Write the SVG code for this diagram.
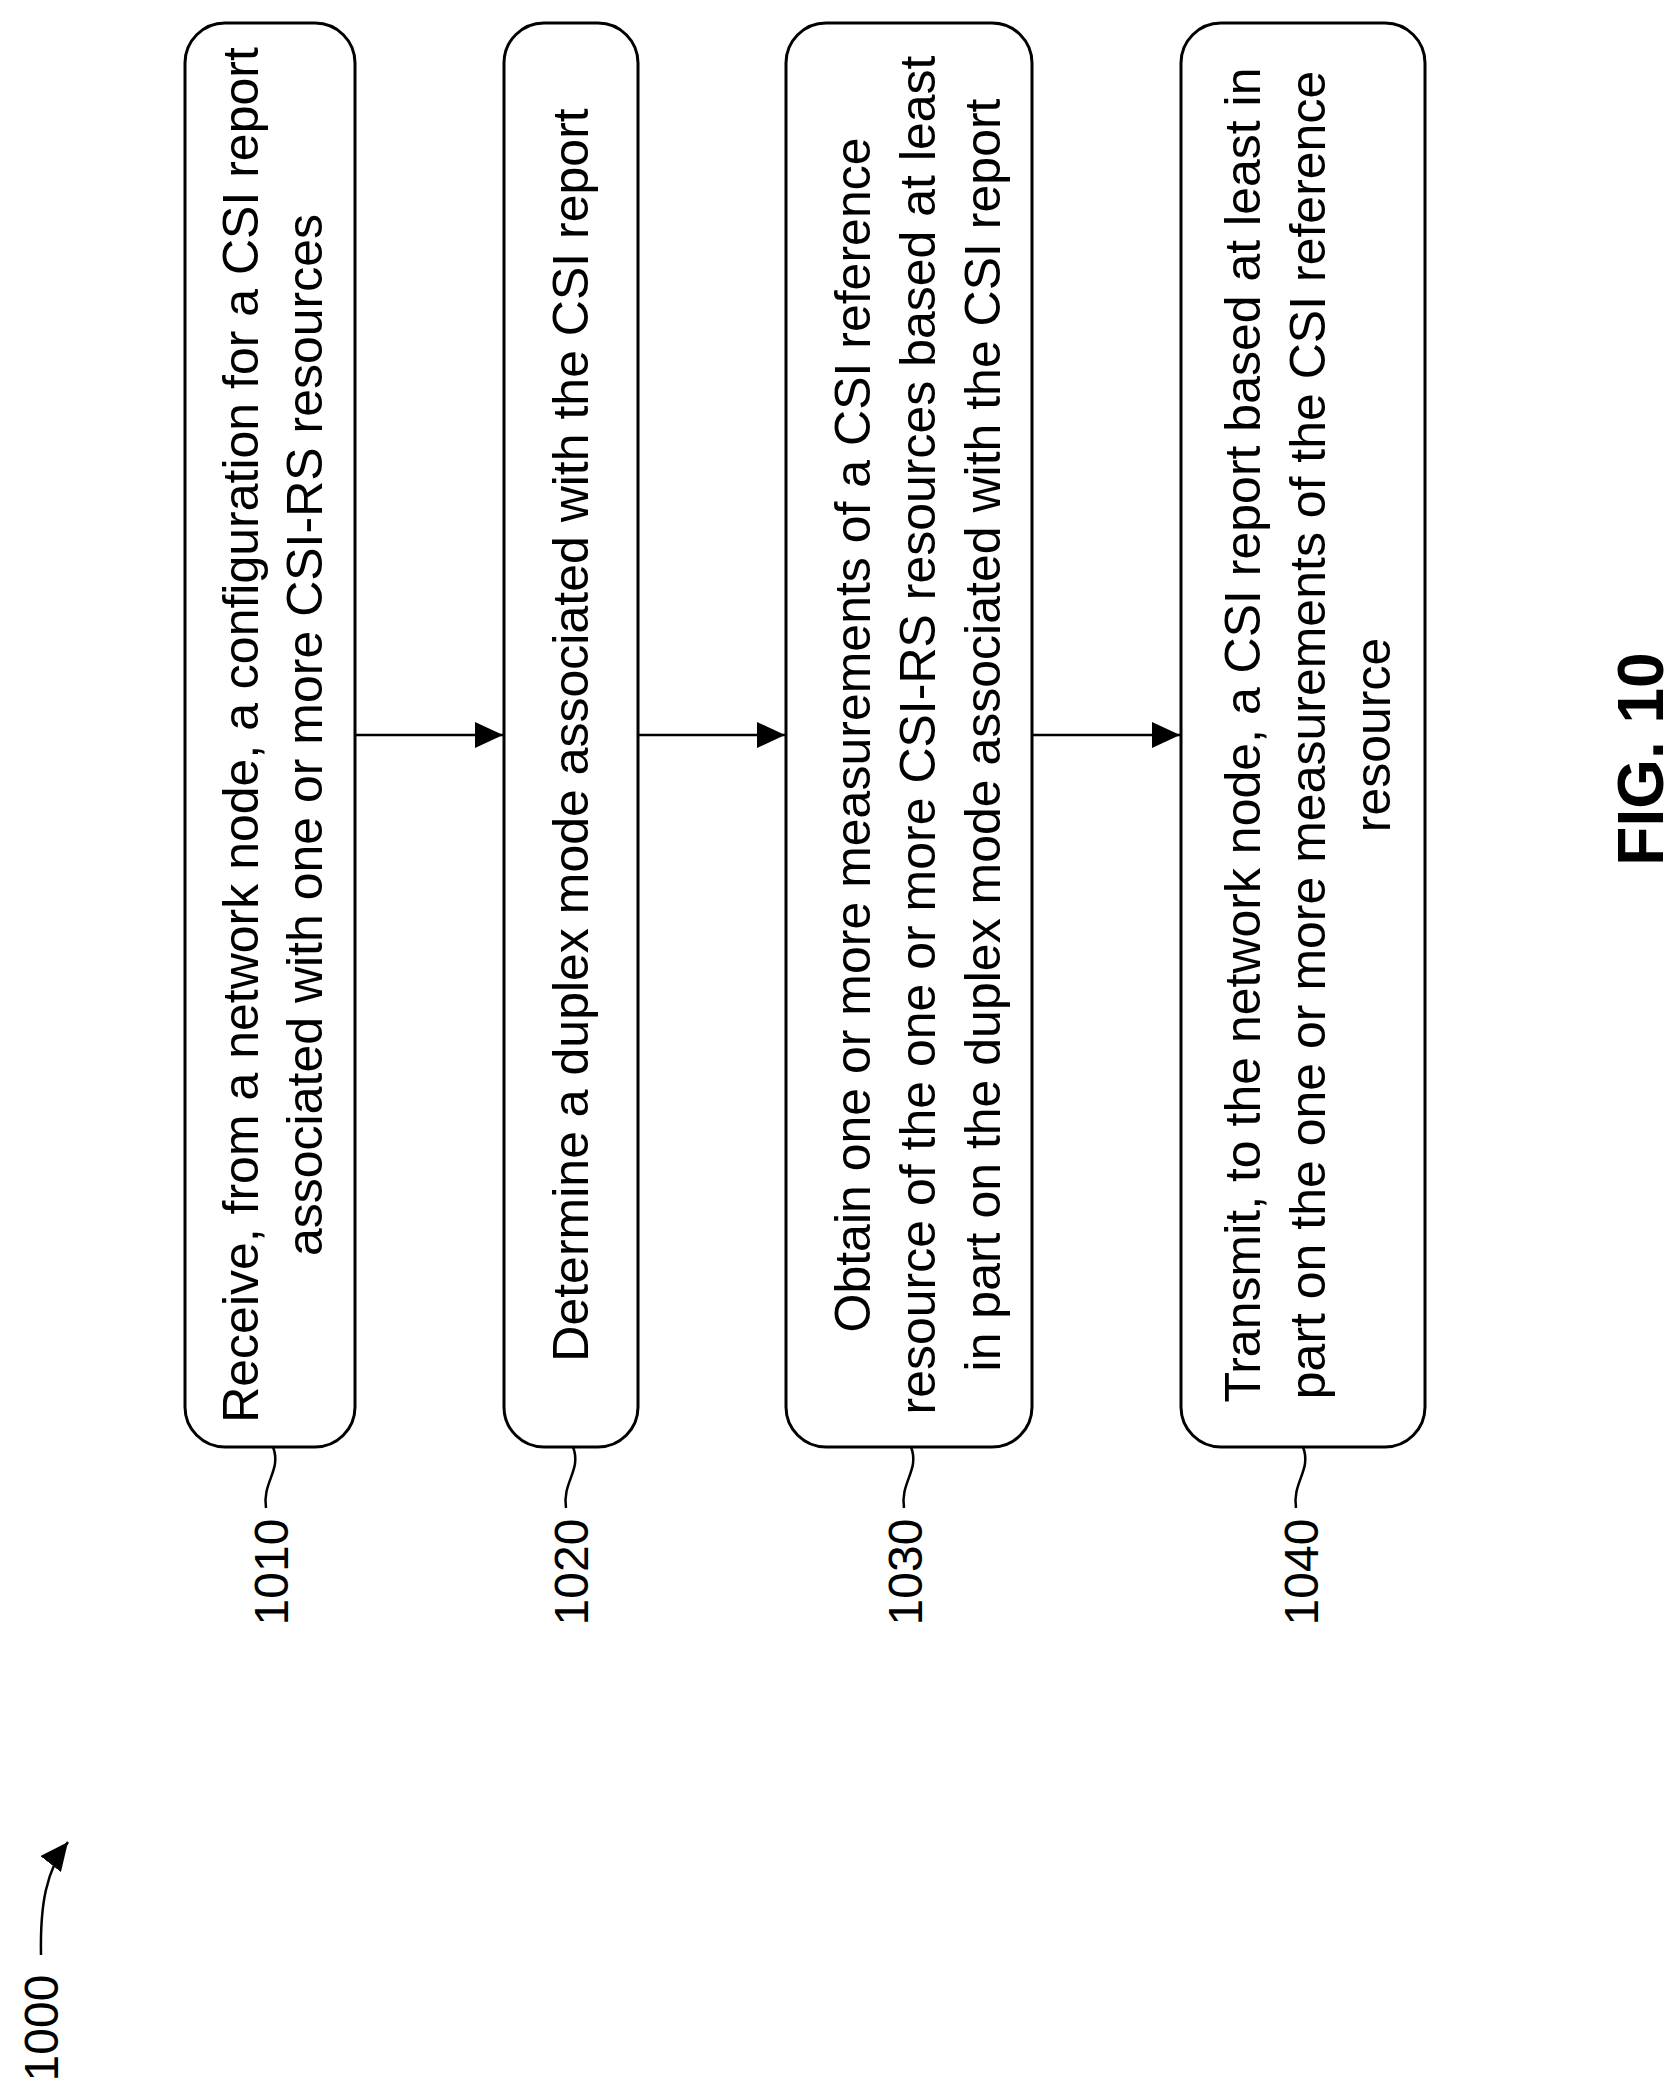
<svg xmlns="http://www.w3.org/2000/svg" width="1680" height="2099" viewBox="0 0 1680 2099">
<style>
.box{fill:#fff;stroke:#000;stroke-width:3}
.t{font-family:"Liberation Sans",Arial,sans-serif;font-size:50px;text-anchor:middle;fill:#000}
.lbl{font-family:"Liberation Sans",Arial,sans-serif;font-size:48px;text-anchor:middle;fill:#000}
.ln{fill:none;stroke:#000;stroke-width:2.5}
</style>
<defs>
<marker id="ah2" markerWidth="28" markerHeight="26" refX="28" refY="13" orient="auto" markerUnits="userSpaceOnUse"><path d="M0,0 L28,13 L0,26 Z"/></marker>
</defs>
<rect x="0" y="0" width="1680" height="2099" fill="#fff"/>
<g id="n1010">
<rect class="box" x="185" y="23" width="170" height="1424" rx="40"/>
<text class="t" transform="translate(258,735) rotate(-90)">Receive, from a network node, a configuration for a CSI report</text>
<text class="t" transform="translate(322,735) rotate(-90)">associated with one or more CSI-RS resources</text>
</g>
<g id="n1020">
<rect class="box" x="504" y="23" width="134" height="1424" rx="40"/>
<text class="t" transform="translate(588,735) rotate(-90)">Determine a duplex mode associated with the CSI report</text>
</g>
<g id="n1030">
<rect class="box" x="786" y="23" width="246" height="1424" rx="40"/>
<text class="t" transform="translate(870,735) rotate(-90)">Obtain one or more measurements of a CSI reference</text>
<text class="t" transform="translate(935,735) rotate(-90)">resource of the one or more CSI-RS resources based at least</text>
<text class="t" transform="translate(1000,735) rotate(-90)">in part on the duplex mode associated with the CSI report</text>
</g>
<g id="n1040">
<rect class="box" x="1181" y="23" width="244" height="1424" rx="40"/>
<text class="t" transform="translate(1260,735) rotate(-90)">Transmit, to the network node, a CSI report based at least in</text>
<text class="t" transform="translate(1325,735) rotate(-90)">part on the one or more measurements of the CSI reference</text>
<text class="t" transform="translate(1390,735) rotate(-90)">resource</text>
</g>
<g id="labels">
<text class="lbl" transform="translate(288,1572) rotate(-90)">1010</text>
<text class="lbl" transform="translate(588,1572) rotate(-90)">1020</text>
<text class="lbl" transform="translate(922,1572) rotate(-90)">1030</text>
<text class="lbl" transform="translate(1318,1572) rotate(-90)">1040</text>
<text class="lbl" transform="translate(58,2028) rotate(-90)">1000</text>
<text transform="translate(1663,759) rotate(-90)" style="font-family:'Liberation Sans',Arial,sans-serif;font-size:64px;font-weight:bold;text-anchor:middle">FIG. 10</text>
</g>
<g id="connectors">
<line class="ln" x1="355" y1="735" x2="503" y2="735" marker-end="url(#ah2)"/>
<line class="ln" x1="638" y1="735" x2="785" y2="735" marker-end="url(#ah2)"/>
<line class="ln" x1="1032" y1="735" x2="1180" y2="735" marker-end="url(#ah2)"/>
<path class="ln" d="M273,1447 C282,1470 262,1482 266,1508"/>
<path class="ln" d="M573,1447 C582,1470 562,1482 566,1508"/>
<path class="ln" d="M911,1447 C920,1470 900,1482 904,1508"/>
<path class="ln" d="M1303,1447 C1312,1470 1292,1482 1296,1508"/>
<path class="ln" d="M41,1955 C40,1905 46,1870 68,1842" marker-end="url(#ah2)"/>
</g>
</svg>
